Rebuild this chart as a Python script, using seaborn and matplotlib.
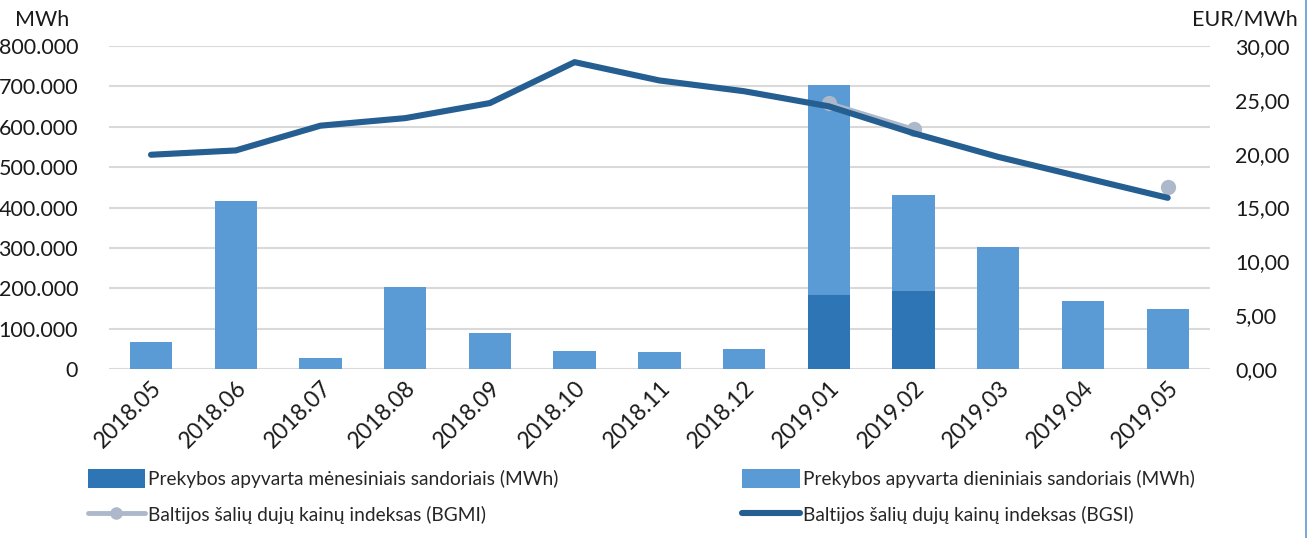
import numpy as np
import pandas as pd
import matplotlib
matplotlib.use("Agg")
import matplotlib.pyplot as plt
from matplotlib.lines import Line2D
from matplotlib.patches import Patch
import seaborn as sns

# data
months = ["2018.05", "2018.06", "2018.07", "2018.08", "2018.09", "2018.10", "2018.11",
          "2018.12", "2019.01", "2019.02", "2019.03", "2019.04", "2019.05"]
monthly_mwh = [0, 0, 0, 0, 0, 0, 0, 0, 183000, 193000, 0, 0, 0]
daily_mwh = [67000, 416000, 27000, 202000, 89000, 45000, 41000, 49000,
             520000, 238000, 302000, 168000, 148000]
bgsi = [19.9, 20.3, 22.6, 23.3, 24.7, 28.5, 26.8, 25.8, 24.4, 21.9, 19.7, 17.8, 15.9]
bgmi = [np.nan] * 8 + [24.7, 22.3, np.nan, np.nan, 16.9]

lbl_monthly = "Prekybos apyvarta mėnesiniais sandoriais (MWh)"
lbl_daily = "Prekybos apyvarta dieniniais sandoriais (MWh)"
lbl_bgmi = "Baltijos šalių dujų kainų indeksas (BGMI)"
lbl_bgsi = "Baltijos šalių dujų kainų indeksas (BGSI)"

c_monthly = "#2E75B6"
c_daily = "#5B9BD5"
c_bgsi = "#255E91"
c_bgmi = "#ADB9CA"
c_grid = "#D9D9D9"
c_text = "#1A1A1A"

sns.set_theme(style="white")
plt.rcParams["font.family"] = ["Lato", "DejaVu Sans"]

df = pd.DataFrame({"month": months, "monthly": monthly_mwh, "daily": daily_mwh})
df["total"] = df["monthly"] + df["daily"]

fig = plt.figure(figsize=(13.12, 5.38), dpi=100)
ax = fig.add_axes([0.0828, 0.3141, 0.8395, 0.6004])

sns.barplot(data=df, x="month", y="total", color=c_daily, width=0.5,
            saturation=1, linewidth=0, ax=ax, zorder=2)
sns.barplot(data=df, x="month", y="monthly", color=c_monthly, width=0.5,
            saturation=1, linewidth=0, ax=ax, zorder=3)

ax.set_ylim(0, 800000)
ax.set_xlim(-0.5, len(months) - 0.5)
ax.set_yticks(np.arange(0, 800001, 100000))
ax.set_yticklabels(["0"] + [f"{v // 1000}.000" for v in range(100000, 800001, 100000)])
ax.yaxis.grid(True, color=c_grid, linewidth=1.5, zorder=0)
ax.set_axisbelow(True)
for s in ax.spines.values():
    s.set_visible(False)
ax.set_xlabel("")
ax.set_ylabel("")
ax.tick_params(axis="y", length=0, pad=22, labelsize=15.5, labelcolor=c_text)
ax.tick_params(axis="x", length=0, pad=6, labelsize=16.5, labelcolor=c_text)
for lab in ax.get_xticklabels():
    lab.set_rotation(45)
    lab.set_horizontalalignment("right")
    lab.set_rotation_mode("anchor")

ax2 = ax.twinx()
x = np.arange(len(months))
ax2.plot(x, bgmi, color=c_bgmi, linewidth=3, marker="o", markersize=11,
         markeredgewidth=0, zorder=3, solid_capstyle="round")
sns.lineplot(x=x, y=bgsi, color=c_bgsi, linewidth=4.4, ax=ax2, zorder=4)
ax2.lines[-1].set_solid_capstyle("round")
ax2.set_ylim(0, 30)
ax2.set_yticks(np.arange(0, 31, 5))
ax2.set_yticklabels([f"{v},00" for v in range(0, 31, 5)])
ax2.tick_params(axis="y", length=0, pad=18, labelsize=15.5, labelcolor=c_text)
for s in ax2.spines.values():
    s.set_visible(False)
ax2.set_ylabel("")

fig.text(15 / 1312, 1 - 20 / 538, "MWh", fontsize=15.5, color=c_text,
         ha="left", va="center")
fig.text(1298 / 1312, 1 - 20 / 538, "EUR/MWh", fontsize=15.5, color=c_text,
         ha="right", va="center")

handles = [
    Patch(facecolor=c_monthly, edgecolor="none"),
    Line2D([], [], color=c_bgmi, linewidth=3.5, marker="o", markersize=9, markeredgewidth=0),
    Patch(facecolor=c_daily, edgecolor="none"),
    Line2D([], [], color=c_bgsi, linewidth=4.4),
]
labels = [lbl_monthly, lbl_bgmi, lbl_daily, lbl_bgsi]
fig.legend(handles, labels, ncol=2, frameon=False, fontsize=13.8,
           loc="upper left", bbox_to_anchor=(80 / 1312, 1 - 461 / 538),
           borderaxespad=0, handlelength=3.0, handleheight=1.15, handletextpad=0.15,
           columnspacing=9.6, labelspacing=0.9)

fig.add_artist(Line2D([1306 / 1312, 1306 / 1312], [0, 1], color="#5B9BD5",
                      linewidth=1.2, transform=fig.transFigure))

fig.savefig("out.png", dpi=100)
